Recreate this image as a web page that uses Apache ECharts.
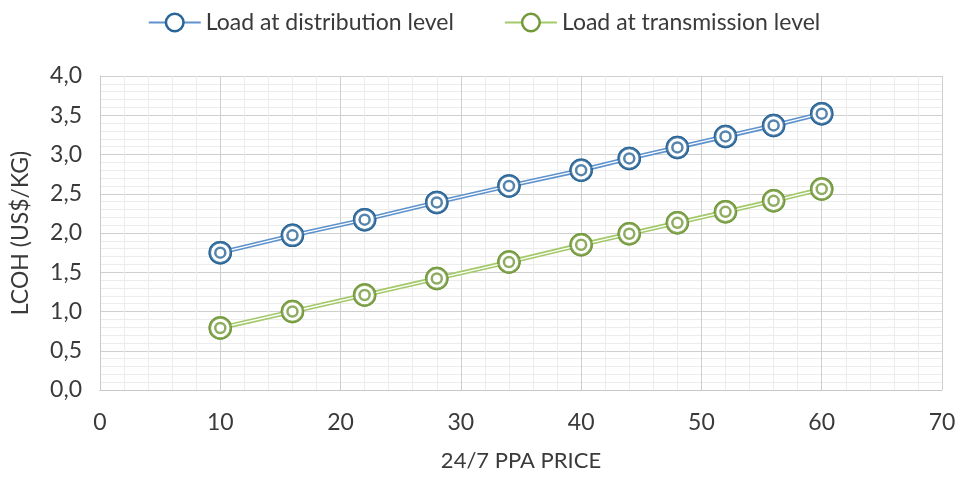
<!DOCTYPE html>
<html><head><meta charset="utf-8">
<script src="https://cdn.jsdelivr.net/npm/echarts@6/dist/echarts.min.js"></script>
<style>html,body{margin:0;padding:0;background:#fff}#c{width:968px;height:477px}</style>
</head><body><div id="c"></div>
<script>
const ppaPrice = [10, 16, 22, 28, 34, 40, 44, 48, 52, 56, 60];
const distribution = [1.75, 1.97, 2.17, 2.39, 2.60, 2.80, 2.95, 3.09, 3.23, 3.37, 3.52];
const transmission = [0.79, 1.00, 1.21, 1.42, 1.63, 1.85, 1.99, 2.13, 2.27, 2.41, 2.56];
const seriesNames = ['Load at distribution level', 'Load at transmission level'];
const xTicks = [0, 10, 20, 30, 40, 50, 60, 70];
const yTicks = [0, 0.5, 1, 1.5, 2, 2.5, 3, 3.5, 4];

const FONT = 'Lato';
const TXT = '#3a3a3a';
const blueLine = '#5e92cc', blueMark = '#2a6597';
const greenLine = '#a3c96a', greenMark = '#72993a';

function pairs(ys){ return ppaPrice.map((x,i)=>[x, ys[i]]); }

function group(name, ys, lineCol, markCol){
  const d = pairs(ys);
  return [
    { name, type:'line', data:d, z:2, symbol:'circle', symbolSize:21,
      itemStyle:{color:'#fff', borderColor:markCol, borderWidth:2.5},
      lineStyle:{color:lineCol, width:4.5}, emphasis:{disabled:true}},
    { name:name+'_w', type:'line', data:d, z:3, symbol:'none',
      lineStyle:{color:'#fff', width:1.3}, emphasis:{disabled:true}, silent:true},
    { name:name+'_o', type:'scatter', data:d, z:4, symbol:'circle', symbolSize:21,
      itemStyle:{color:'#fff', borderColor:markCol, borderWidth:2.5}, silent:true},
    { name:name+'_i', type:'scatter', data:d, z:5, symbol:'circle', symbolSize:10,
      itemStyle:{color:'#fff', borderColor:markCol, borderWidth:2.5}, silent:true}
  ];
}

const chart = echarts.init(document.getElementById('c'), null, {renderer:'canvas'});
chart.setOption({
  animation:false,
  backgroundColor:'#fff',
  textStyle:{fontFamily:FONT},
  legend:{
    data:[
      {name:seriesNames[0], itemStyle:{color:'#fff', borderColor:blueMark, borderWidth:2.5}},
      {name:seriesNames[1], itemStyle:{color:'#fff', borderColor:greenMark, borderWidth:2.5}}
    ],
    top:6, left:'center', itemGap:50, itemWidth:52, itemHeight:22,
    textStyle:{fontFamily:FONT, fontSize:23, color:TXT}
  },
  grid:{left:100, right:26, top:76, bottom:85},
  xAxis:{
    type:'value', min:xTicks[0], max:xTicks[xTicks.length-1], interval:10,
    name:'24/7 PPA PRICE', nameLocation:'middle', nameGap:60,
    nameTextStyle:{fontFamily:FONT, fontSize:22, color:TXT},
    axisLine:{show:true, lineStyle:{color:'#c8c8c8'}},
    axisTick:{show:false},
    axisLabel:{fontFamily:FONT, fontSize:23, color:TXT, margin:21},
    splitLine:{show:true, lineStyle:{color:'#cfcfcf', width:1}},
    minorTick:{show:false, splitNumber:5},
    minorSplitLine:{show:true, lineStyle:{color:'#ececec', width:1}}
  },
  yAxis:{
    type:'value', min:yTicks[0], max:yTicks[yTicks.length-1], interval:0.5,
    name:'LCOH (US$/KG)', nameLocation:'middle', nameGap:68, nameRotate:90,
    nameTextStyle:{fontFamily:FONT, fontSize:23, color:TXT},
    axisLine:{show:true, lineStyle:{color:'#c8c8c8'}},
    axisTick:{show:false},
    axisLabel:{fontFamily:FONT, fontSize:23, color:TXT, margin:18,
      formatter:v=>v.toFixed(1).replace('.', ',')},
    splitLine:{show:true, lineStyle:{color:'#cfcfcf', width:1}},
    minorTick:{show:false, splitNumber:5},
    minorSplitLine:{show:true, lineStyle:{color:'#ececec', width:1}}
  },
  series:[
    ...group(seriesNames[0], distribution, blueLine, blueMark),
    ...group(seriesNames[1], transmission, greenLine, greenMark)
  ]
});
</script></body></html>
